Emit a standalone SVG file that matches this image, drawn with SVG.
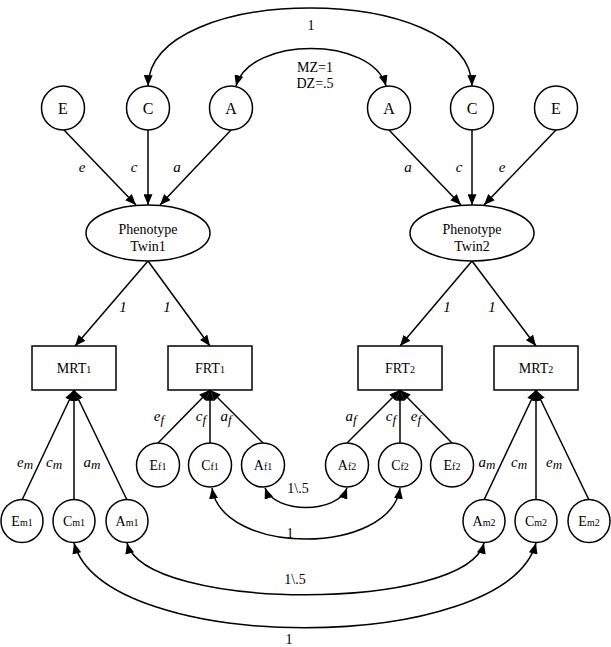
<svg xmlns="http://www.w3.org/2000/svg" width="611" height="647" viewBox="0 0 611 647">
<style>
.n{fill:#fff;stroke:#000;stroke-width:1.5}
.l{fill:none;stroke:#000;stroke-width:1.5}
text{font-family:'Liberation Serif','Times New Roman','DejaVu Serif',serif;fill:#000;text-anchor:middle}
.big{font-size:16px}
.lab{font-size:14px}
.it{font-size:15px;font-style:italic}
.sub{font-size:10px}
</style>
<defs>
<marker id="ar" viewBox="0 0 12 10" refX="12" refY="5" markerWidth="11" markerHeight="9" markerUnits="userSpaceOnUse" orient="auto-start-reverse">
<path d="M0,0 L12,5 L0,10 z" fill="#000"/>
</marker>
</defs>
<rect width="611" height="647" fill="#fff"/>
<g id="connectors">
<path class="l" d="M148,86 C150,-18 470,-18 472,86" marker-start="url(#ar)" marker-end="url(#ar)"/>
<path class="l" d="M236,86 C250,36 372,36 386,86" marker-start="url(#ar)" marker-end="url(#ar)"/>
<line class="l" x1="64" y1="130" x2="136" y2="205" marker-end="url(#ar)"/>
<line class="l" x1="148" y1="130" x2="148" y2="205" marker-end="url(#ar)"/>
<line class="l" x1="231" y1="130" x2="160" y2="205" marker-end="url(#ar)"/>
<line class="l" x1="389" y1="130" x2="461" y2="205" marker-end="url(#ar)"/>
<line class="l" x1="472" y1="130" x2="472" y2="205" marker-end="url(#ar)"/>
<line class="l" x1="556" y1="130" x2="484" y2="205" marker-end="url(#ar)"/>
<line class="l" x1="148" y1="261" x2="75" y2="346" marker-end="url(#ar)"/>
<line class="l" x1="148" y1="261" x2="210" y2="346" marker-end="url(#ar)"/>
<line class="l" x1="472" y1="261" x2="400" y2="346" marker-end="url(#ar)"/>
<line class="l" x1="472" y1="261" x2="536" y2="346" marker-end="url(#ar)"/>
<line class="l" x1="22" y1="500" x2="74" y2="390" marker-end="url(#ar)"/>
<line class="l" x1="74" y1="500" x2="74" y2="390" marker-end="url(#ar)"/>
<line class="l" x1="127" y1="500" x2="74" y2="390" marker-end="url(#ar)"/>
<line class="l" x1="158" y1="443" x2="210" y2="390" marker-end="url(#ar)"/>
<line class="l" x1="210" y1="443" x2="210" y2="390" marker-end="url(#ar)"/>
<line class="l" x1="263" y1="443" x2="210" y2="390" marker-end="url(#ar)"/>
<line class="l" x1="347" y1="443" x2="400" y2="390" marker-end="url(#ar)"/>
<line class="l" x1="400" y1="443" x2="400" y2="390" marker-end="url(#ar)"/>
<line class="l" x1="452" y1="443" x2="400" y2="390" marker-end="url(#ar)"/>
<line class="l" x1="484" y1="500" x2="536" y2="390" marker-end="url(#ar)"/>
<line class="l" x1="536" y1="500" x2="536" y2="390" marker-end="url(#ar)"/>
<line class="l" x1="589" y1="500" x2="536" y2="390" marker-end="url(#ar)"/>
<path class="l" d="M265,488 C275,514 337,514 347,488" marker-start="url(#ar)" marker-end="url(#ar)"/>
<path class="l" d="M212,488 C222,556 390,556 400,488" marker-start="url(#ar)" marker-end="url(#ar)"/>
<path class="l" d="M127,543 C145,612 466,612 484,543" marker-start="url(#ar)" marker-end="url(#ar)"/>
<path class="l" d="M74,543 C105,656 505,656 536,543" marker-start="url(#ar)" marker-end="url(#ar)"/>
</g>
<g id="labels">
<text class="lab" x="311" y="30">1</text>
<text class="lab" x="315" y="72">MZ=1</text>
<text class="lab" x="315" y="88">DZ=.5</text>
<text class="it" x="82" y="172">e</text>
<text class="it" x="134" y="172">c</text>
<text class="it" x="177" y="172">a</text>
<text class="it" x="408" y="172">a</text>
<text class="it" x="459" y="172">c</text>
<text class="it" x="502" y="172">e</text>
<text class="it" x="123" y="312">1</text>
<text class="it" x="167" y="312">1</text>
<text class="it" x="447" y="312">1</text>
<text class="it" x="492" y="312">1</text>
<text class="it" x="25" y="467">e<tspan dy="2" font-size="13">m</tspan></text>
<text class="it" x="54" y="467">c<tspan dy="2" font-size="13">m</tspan></text>
<text class="it" x="92" y="467">a<tspan dy="2" font-size="13">m</tspan></text>
<text class="it" x="487" y="467">a<tspan dy="2" font-size="13">m</tspan></text>
<text class="it" x="519" y="467">c<tspan dy="2" font-size="13">m</tspan></text>
<text class="it" x="554" y="467">e<tspan dy="2" font-size="13">m</tspan></text>
<text class="it" x="159" y="421">e<tspan dy="3" font-size="13">f</tspan></text>
<text class="it" x="201" y="421">c<tspan dy="3" font-size="13">f</tspan></text>
<text class="it" x="226" y="421">a<tspan dy="3" font-size="13">f</tspan></text>
<text class="it" x="351" y="421">a<tspan dy="3" font-size="13">f</tspan></text>
<text class="it" x="391" y="421">c<tspan dy="3" font-size="13">f</tspan></text>
<text class="it" x="416" y="421">e<tspan dy="3" font-size="13">f</tspan></text>
<text class="lab" x="298" y="493">1\.5</text>
<text class="lab" x="290" y="538">1</text>
<text class="lab" x="295" y="584">1\.5</text>
<text class="lab" font-size="13" x="289" y="644">1</text>
</g>
<g id="E1"><ellipse class="n" cx="63" cy="108" rx="21.5" ry="22"/><text class="big" x="63" y="114">E</text></g>
<g id="C1"><ellipse class="n" cx="148" cy="108" rx="21.5" ry="22"/><text class="big" x="148" y="114">C</text></g>
<g id="A1"><ellipse class="n" cx="231" cy="108" rx="21.5" ry="22"/><text class="big" x="231" y="114">A</text></g>
<g id="A2"><ellipse class="n" cx="389" cy="108" rx="21.5" ry="22"/><text class="big" x="389" y="114">A</text></g>
<g id="C2"><ellipse class="n" cx="472" cy="108" rx="21.5" ry="22"/><text class="big" x="472" y="114">C</text></g>
<g id="E2"><ellipse class="n" cx="556" cy="108" rx="21.5" ry="22"/><text class="big" x="556" y="114">E</text></g>
<g id="P1"><ellipse class="n" cx="148" cy="233" rx="62" ry="28"/><text class="lab" font-size="15" x="148" y="234">Phenotype</text><text class="lab" font-size="15" x="148" y="251">Twin1</text></g>
<g id="P2"><ellipse class="n" cx="472" cy="233" rx="62" ry="28"/><text class="lab" font-size="15" x="472" y="234">Phenotype</text><text class="lab" font-size="15" x="472" y="251">Twin2</text></g>
<g id="MRT1"><rect class="n" x="32" y="346" width="84" height="44"/><text class="lab" x="74" y="373">MRT<tspan class="sub">1</tspan></text></g>
<g id="FRT1"><rect class="n" x="168" y="346" width="84" height="44"/><text class="lab" x="210" y="373">FRT<tspan class="sub">1</tspan></text></g>
<g id="FRT2"><rect class="n" x="358" y="346" width="84" height="44"/><text class="lab" x="400" y="373">FRT<tspan class="sub">2</tspan></text></g>
<g id="MRT2"><rect class="n" x="494" y="346" width="84" height="44"/><text class="lab" x="536" y="373">MRT<tspan class="sub">2</tspan></text></g>
<g id="Ef1"><ellipse class="n" cx="158" cy="465" rx="21.5" ry="22"/><text class="lab" font-size="15" x="158" y="470">E<tspan class="sub">f1</tspan></text></g>
<g id="Cf1"><ellipse class="n" cx="210" cy="465" rx="21.5" ry="22"/><text class="lab" font-size="15" x="210" y="470">C<tspan class="sub">f1</tspan></text></g>
<g id="Af1"><ellipse class="n" cx="263" cy="465" rx="21.5" ry="22"/><text class="lab" font-size="15" x="263" y="470">A<tspan class="sub">f1</tspan></text></g>
<g id="Af2"><ellipse class="n" cx="347" cy="465" rx="21.5" ry="22"/><text class="lab" font-size="15" x="347" y="470">A<tspan class="sub">f2</tspan></text></g>
<g id="Cf2"><ellipse class="n" cx="400" cy="465" rx="21.5" ry="22"/><text class="lab" font-size="15" x="400" y="470">C<tspan class="sub">f2</tspan></text></g>
<g id="Ef2"><ellipse class="n" cx="452" cy="465" rx="21.5" ry="22"/><text class="lab" font-size="15" x="452" y="470">E<tspan class="sub">f2</tspan></text></g>
<g id="Em1"><ellipse class="n" cx="22" cy="521" rx="21" ry="21.5"/><text class="lab" font-size="15" x="22" y="526">E<tspan class="sub">m1</tspan></text></g>
<g id="Cm1"><ellipse class="n" cx="74" cy="521" rx="21" ry="21.5"/><text class="lab" font-size="15" x="74" y="526">C<tspan class="sub">m1</tspan></text></g>
<g id="Am1"><ellipse class="n" cx="127" cy="521" rx="21" ry="21.5"/><text class="lab" font-size="15" x="127" y="526">A<tspan class="sub">m1</tspan></text></g>
<g id="Am2"><ellipse class="n" cx="484" cy="521" rx="21" ry="21.5"/><text class="lab" font-size="15" x="484" y="526">A<tspan class="sub">m2</tspan></text></g>
<g id="Cm2"><ellipse class="n" cx="536" cy="521" rx="21" ry="21.5"/><text class="lab" font-size="15" x="536" y="526">C<tspan class="sub">m2</tspan></text></g>
<g id="Em2"><ellipse class="n" cx="589" cy="521" rx="21" ry="21.5"/><text class="lab" font-size="15" x="589" y="526">E<tspan class="sub">m2</tspan></text></g>
</svg>
